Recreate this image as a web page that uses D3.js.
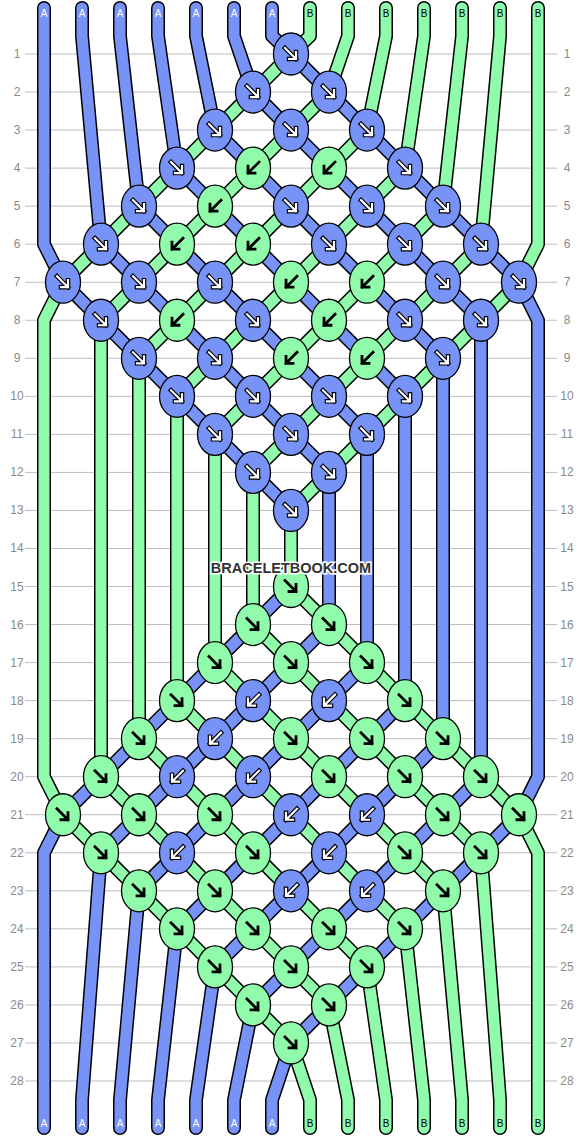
<!DOCTYPE html>
<html>
<head>
<meta charset="utf-8">
<script src="https://cdn.jsdelivr.net/npm/d3@7"></script>
<style>
  body { margin: 0; background: #fff; }
  svg { display: block; }
</style>
</head>
<body>
<svg id="chart" width="582" height="1136"></svg>
<script>
// strings from left to right at the start
const strings = ["A","A","A","A","A","A","A","B","B","B","B","B","B","B"];
const stringColors = { A: "#7893f7", B: "#90fcab" };

// knot types per row (F = forward ↘, B = backward ↙), knots centred in each row
const half = ["F","FF","FFF","FBBF","FBFFF","FBBFFF","FFFBBFF","FBFBFF","FFBBF","FFFF","FFF","FF","F",""];
const rowKnots = half.concat(half);   // rows 1..28
const rowLabels = d3.range(1, 29);

const width = 582, height = 1136;
const svg = d3.select("#chart");

const x = d3.scaleLinear().domain([0, 13]).range([44, 538]);
const y = d3.scaleLinear().domain([1, 28]).range([54, 1081]);

// grid lines and row numbers
svg.append("g").selectAll("line").data(rowLabels).join("line")
    .attr("x1", 25).attr("x2", 557)
    .attr("y1", d => y(d)).attr("y2", d => y(d))
    .attr("stroke", "#bdbdbd").attr("stroke-width", 1);

[17, 567].forEach(lx => {
    svg.append("g").selectAll("text").data(rowLabels).join("text")
        .attr("x", lx).attr("y", d => y(d) + 4)
        .attr("text-anchor", "middle")
        .attr("font-family", "Liberation Sans, Arial, sans-serif")
        .attr("font-size", 12)
        .attr("fill", "#8a8a8a")
        .text(d => d);
});

// simulate the strings row by row
let pos = strings.map((s, i) => i);          // pos[p] = string id at position p
const paths = strings.map((s, i) => [[x(i), 8], [x(i), 36]]);
const knots = [];

rowKnots.forEach((types, ri) => {
    const row = ri + 1;
    const odd = row % 2 === 1;
    const maxPairs = odd ? 7 : 6;
    const n = types.length;
    const start = Math.floor((maxPairs - n) / 2);
    const inKnot = new Set();
    const next = pos.slice();
    for (let j = 0; j < n; j++) {
        const k = start + j;
        const p = odd ? 2 * k : 2 * k + 1;
        const cx = (x(p) + x(p + 1)) / 2, cy = y(row);
        const l = pos[p], r = pos[p + 1];
        const t = types[j];
        const col = t === "F" ? strings[l] : strings[r];
        knots.push({ cx, cy, type: t, color: col });
        paths[l].push([cx, cy]);
        paths[r].push([cx, cy]);
        next[p] = r; next[p + 1] = l;
        inKnot.add(p); inKnot.add(p + 1);
    }
    // edge strings sit at their column in rows where they can't be knotted
    [0, 13].forEach(p => {
        if (!inKnot.has(p) && !odd && row > 1 && row < 28) paths[pos[p]].push([x(p), y(row)]);
    });
    pos = next;
});

pos.forEach((sid, p) => {
    paths[sid].push([x(p), height - 36]);
    paths[sid].push([x(p), height - 8]);
});

const line = d3.line();
const sg = svg.append("g");
paths.forEach((pts, i) => {
    sg.append("path").attr("d", line(pts))
        .attr("fill", "none").attr("stroke", "#000").attr("stroke-width", 14)
        .attr("stroke-linejoin", "round").attr("stroke-linecap", "round");
    sg.append("path").attr("d", line(pts))
        .attr("fill", "none").attr("stroke", stringColors[strings[i]]).attr("stroke-width", 11)
        .attr("stroke-linejoin", "round").attr("stroke-linecap", "round");
});

// string letters top and bottom
const letters = svg.append("g");
strings.forEach((s, i) => {
    letters.append("text").attr("x", x(i)).attr("y", 17).attr("text-anchor", "middle")
        .attr("font-family", "Liberation Sans, Arial, sans-serif").attr("font-size", 10)
        .attr("fill", s === "A" ? "#fff" : "#000").text(s);
});
pos.forEach((sid, p) => {
    const s = strings[sid];
    letters.append("text").attr("x", x(p)).attr("y", height - 9).attr("text-anchor", "middle")
        .attr("font-family", "Liberation Sans, Arial, sans-serif").attr("font-size", 10)
        .attr("fill", s === "A" ? "#fff" : "#000").text(s);
});

// knots
const kg = svg.append("g").selectAll("g").data(knots).join("g")
    .attr("transform", d => `translate(${d.cx},${d.cy})`);
kg.append("ellipse").attr("rx", 17.5).attr("ry", 21)
    .attr("fill", d => stringColors[d.color]).attr("stroke", "#000").attr("stroke-width", 1.3);

const arrowPath = t => t === "F"
    ? "M-6,-6L5,5M5,-2L5,5L-2,5"
    : "M6,-6L-5,5M-5,-2L-5,5L2,5";
kg.filter(d => d.color === "A").append("path").attr("d", d => arrowPath(d.type))
    .attr("fill", "none").attr("stroke", "#000").attr("stroke-width", 4.5).attr("stroke-linecap", "square");
kg.append("path").attr("d", d => arrowPath(d.type))
    .attr("fill", "none").attr("stroke", d => d.color === "A" ? "#fff" : "#000")
    .attr("stroke-width", d => d.color === "A" ? 2.2 : 2.8).attr("stroke-linecap", "square");

// watermark
svg.append("text").attr("x", 291).attr("y", 573).attr("text-anchor", "middle")
    .attr("font-family", "Liberation Sans, Arial, sans-serif").attr("font-weight", "bold")
    .attr("font-size", 14.5).attr("fill", "#333")
    .attr("stroke", "#fff").attr("stroke-width", 3).attr("paint-order", "stroke")
    .text("BRACELETBOOK.COM");
</script>
</body>
</html>
